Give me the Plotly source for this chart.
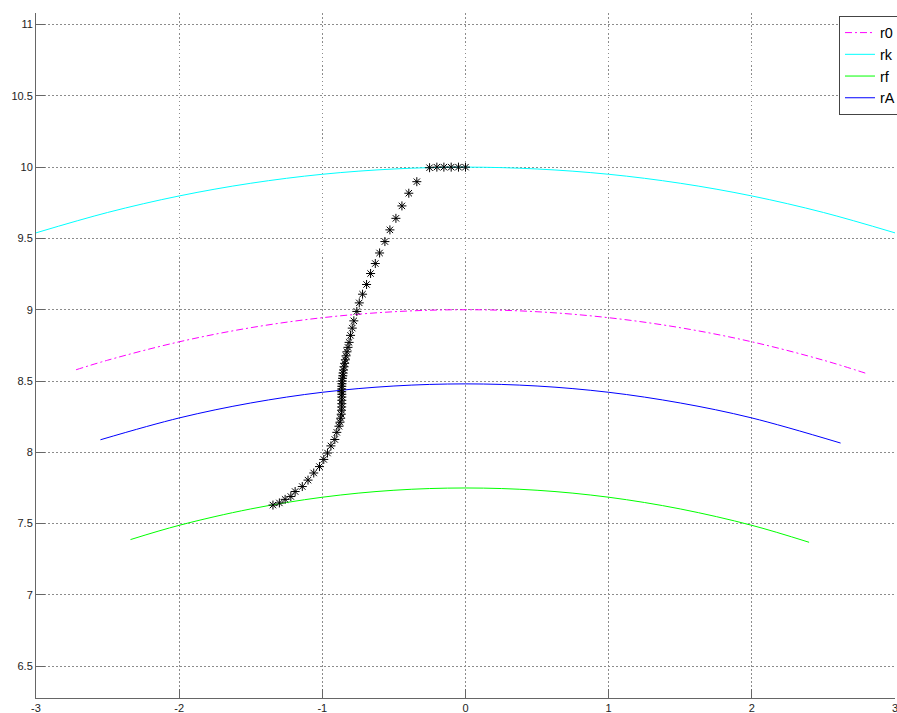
import plotly.graph_objects as go

# ---- data ----
rk_x = [-3.0, -2.5, -2.0, -1.5, -1.0, -0.5, 0.0, 0.5, 1.0, 1.5, 2.0, 2.5, 3.0]
rk_y = [9.539, 9.682, 9.798, 9.887, 9.950, 9.987, 10.0, 9.987, 9.950, 9.887, 9.798, 9.682, 9.539]

r0_x = [-2.72, -2.5, -2.0, -1.5, -1.0, -0.5, 0.0, 0.5, 1.0, 1.5, 2.0, 2.5, 2.80]
r0_y = [8.579, 8.646, 8.775, 8.874, 8.944, 8.986, 9.0, 8.986, 8.944, 8.874, 8.775, 8.646, 8.553]

rA_x = [-2.55, -2.0, -1.5, -1.0, -0.5, 0.0, 0.5, 1.0, 1.5, 2.0, 2.62]
rA_y = [8.088, 8.241, 8.346, 8.421, 8.465, 8.48, 8.465, 8.421, 8.346, 8.241, 8.065]

rf_x = [-2.34, -2.0, -1.5, -1.0, -0.5, 0.0, 0.5, 1.0, 1.5, 2.0, 2.40]
rf_y = [7.388, 7.488, 7.603, 7.685, 7.734, 7.75, 7.734, 7.685, 7.603, 7.488, 7.369]

path_x = [-1.345, -1.30, -1.26, -1.22, -1.19, -1.14, -1.10, -1.06, -1.02, -0.99,
          -0.964, -0.94, -0.913, -0.899, -0.884, -0.877, -0.872, -0.868, -0.866,
          -0.865, -0.864, -0.864, -0.864, -0.864, -0.865, -0.865, -0.864, -0.863,
          -0.861, -0.859, -0.857, -0.855, -0.852, -0.848, -0.844, -0.839, -0.834,
          -0.828, -0.821, -0.813, -0.803, -0.791, -0.780, -0.759, -0.742, -0.719,
          -0.691, -0.663, -0.630, -0.600, -0.563, -0.528, -0.486, -0.444, -0.396,
          -0.340, -0.251, -0.200, -0.151, -0.100, -0.049, 0.0]
path_y = [7.630, 7.645, 7.670, 7.690, 7.725, 7.760, 7.805, 7.855, 7.900, 7.950,
          7.995, 8.045, 8.090, 8.140, 8.183, 8.211, 8.239, 8.267, 8.295,
          8.318, 8.341, 8.365, 8.388, 8.407, 8.425, 8.444, 8.463, 8.481,
          8.500, 8.519, 8.537, 8.556, 8.577, 8.600, 8.624, 8.649, 8.677,
          8.705, 8.736, 8.771, 8.820, 8.871, 8.922, 8.988, 9.048, 9.109, 9.177,
          9.254, 9.324, 9.398, 9.478, 9.560, 9.641, 9.728, 9.817, 9.898,
          9.996, 10.0, 10.0, 10.0, 10.0, 10.0, 10.0]

x_ticks = [-3, -2, -1, 0, 1, 2, 3]
x_labels = ["-3", "-2", "-1", "0", "1", "2", "3"]
y_ticks = [6.5, 7, 7.5, 8, 8.5, 9, 9.5, 10, 10.5, 11]
y_labels = ["6.5", "7", "7.5", "8", "8.5", "9", "9.5", "10", "10.5", "11"]

fig = go.Figure()
fig.add_trace(go.Scatter(x=r0_x, y=r0_y, name="r0", mode="lines", line_shape="spline",
                         line=dict(color="#FF00FF", width=1, dash="7px,3px,2px,3px")))
fig.add_trace(go.Scatter(x=rk_x, y=rk_y, name="rk", mode="lines", line_shape="spline",
                         line=dict(color="#00FFFF", width=1)))
fig.add_trace(go.Scatter(x=rf_x, y=rf_y, name="rf", mode="lines", line_shape="spline",
                         line=dict(color="#00FF00", width=1)))
fig.add_trace(go.Scatter(x=rA_x, y=rA_y, name="rA", mode="lines", line_shape="spline",
                         line=dict(color="#0000FF", width=1)))
fig.add_trace(go.Scatter(x=path_x, y=path_y, mode="markers", showlegend=False,
                         marker=dict(symbol="asterisk-open", size=7.5, color="black",
                                     line=dict(color="black", width=1))))

axis_common = dict(
    showline=True, linecolor="#666666", linewidth=1,
    ticks="inside", ticklen=9, tickcolor="#666666", tickwidth=1,
    showgrid=True, gridcolor="#8c8c8c", gridwidth=1, griddash="1.5px,2.5px",
    zeroline=False, automargin=False, ticklabeloverflow="allow",
    tickfont=dict(family="Liberation Sans, Arial, sans-serif", size=11, color="#222222"),
)

fig.update_xaxes(range=[-3, 3], tickmode="array", tickvals=x_ticks, ticktext=x_labels,
                 ticklabelstandoff=0, **axis_common)
fig.update_yaxes(range=[6.277, 11.081], tickmode="array", tickvals=y_ticks, ticktext=y_labels,
                 **axis_common)

fig.update_layout(
    width=897, height=713,
    margin=dict(l=36, r=2, t=12.7, b=14.5, autoexpand=False),
    paper_bgcolor="white", plot_bgcolor="white",
    showlegend=True,
    legend=dict(x=0.9348, y=0.996, xanchor="left", yanchor="top",
                bgcolor="white", bordercolor="#444444", borderwidth=1,
                font=dict(family="Liberation Sans, Arial, sans-serif", size=14.4, color="black")),
)

fig.write_html(
    "out.html",
    config={"responsive": False, "displayModeBar": False},
    post_script="document.body.style.margin='0';document.body.style.overflow='hidden';",
)
